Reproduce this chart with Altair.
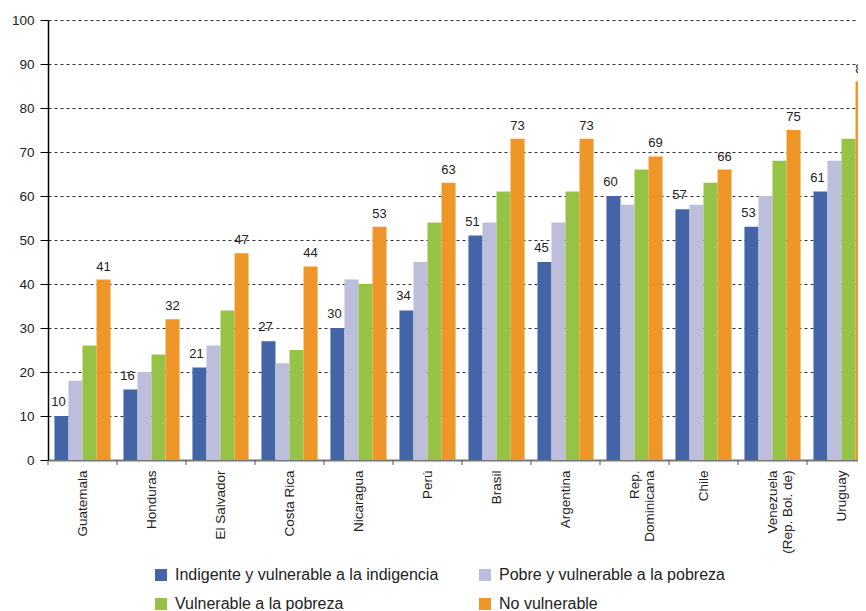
import altair as alt
import pandas as pd

countries = ["Guatemala", "Honduras", "El Salvador", "Costa Rica", "Nicaragua", "Perú",
             "Brasil", "Argentina", "Rep.|Dominicana", "Chile", "Venezuela|(Rep. Bol. de)", "Uruguay"]
series_names = ["Indigente y vulnerable a la indigencia", "Pobre y vulnerable a la pobreza",
                "Vulnerable a la pobreza", "No vulnerable"]
indigente = [10, 16, 21, 27, 30, 34, 51, 45, 60, 57, 53, 61]
pobre = [18, 20, 26, 22, 41, 45, 54, 54, 58, 58, 60, 68]
vulnerable = [26, 24, 34, 25, 40, 54, 61, 61, 66, 63, 68, 73]
no_vulnerable = [41, 32, 47, 44, 53, 63, 73, 73, 69, 66, 75, 86]
colors = ["#4464a8", "#bdbddc", "#96c346", "#ef9628"]
y_ticks = list(range(0, 101, 10))

rows = []
for s, vals in zip(series_names, [indigente, pobre, vulnerable, no_vulnerable]):
    for c, v in zip(countries, vals):
        rows.append({"country": c, "series": s, "value": v})
df = pd.DataFrame(rows)
labeled_blue = df[df["series"] == series_names[0]]
labeled_orange = df[df["series"] == series_names[3]]

x_enc = alt.X(
    "country:N", sort=countries,
    scale=alt.Scale(range=[0, 828], paddingInner=0, paddingOuter=0),
    axis=alt.Axis(title=None, labelAngle=-90, labelAlign="right", labelBaseline="middle",
                  ticks=False, labelPadding=10, labelExpr="split(datum.label, '|')",
                  domainColor="#777", domainWidth=2, labelFontSize=13.5,
                  labelColor="#222", labelLineHeight=15),
)
y_enc = alt.Y(
    "value:Q", scale=alt.Scale(domain=[0, 100]),
    axis=alt.Axis(values=y_ticks, title=None, grid=True, gridDash=[3, 3], gridColor="#333",
                  gridWidth=1, domainColor="#000", domainWidth=1.5, tickColor="#000",
                  tickSize=8, labelPadding=6, labelFontSize=13.5, labelColor="#222"),
)
xoff = alt.XOffset("series:N", sort=series_names,
                   scale=alt.Scale(domain=series_names, paddingOuter=0.46, paddingInner=0))

bars = alt.Chart(df).mark_bar().encode(
    x=x_enc, y=y_enc, xOffset=xoff,
    color=alt.Color("series:N", sort=series_names,
                    scale=alt.Scale(domain=series_names, range=colors),
                    legend=alt.Legend(title=None, orient="none", legendX=105, legendY=547,
                                      columns=2, direction="horizontal", symbolType="square",
                                      symbolSize=144, symbolStrokeWidth=0, symbolOpacity=1,
                                      labelFontSize=16, labelOffset=6, columnPadding=38,
                                      rowPadding=13, padding=0, labelColor="#222",
                                      labelLimit=400)),
)

text_blue = alt.Chart(labeled_blue).mark_text(baseline="bottom", dy=-7, dx=-3, fontSize=13,
                                              color="#222").encode(
    x=alt.X("country:N", sort=countries), y=alt.Y("value:Q"), xOffset=xoff,
    text=alt.Text("value:Q"),
)
text_orange = alt.Chart(labeled_orange).mark_text(baseline="bottom", dy=-6, fontSize=13,
                                                  color="#222").encode(
    x=alt.X("country:N", sort=countries), y=alt.Y("value:Q"), xOffset=xoff,
    text=alt.Text("value:Q"),
)

ticks = alt.Chart(pd.DataFrame({"country": countries})).mark_rule(color="#555", strokeWidth=1).encode(
    x=alt.X("country:N", sort=countries, bandPosition=0),
    y=alt.value(440), y2=alt.value(445),
)

chart = alt.layer(bars, text_blue, text_orange, ticks).properties(
    width=810, height=440, autosize="none",
    padding={"left": 40, "top": 12, "right": 0, "bottom": 151},
).configure(font="Liberation Sans").configure_view(stroke=None)

chart.save("out.html", embed_options={"renderer": "svg", "actions": False})
